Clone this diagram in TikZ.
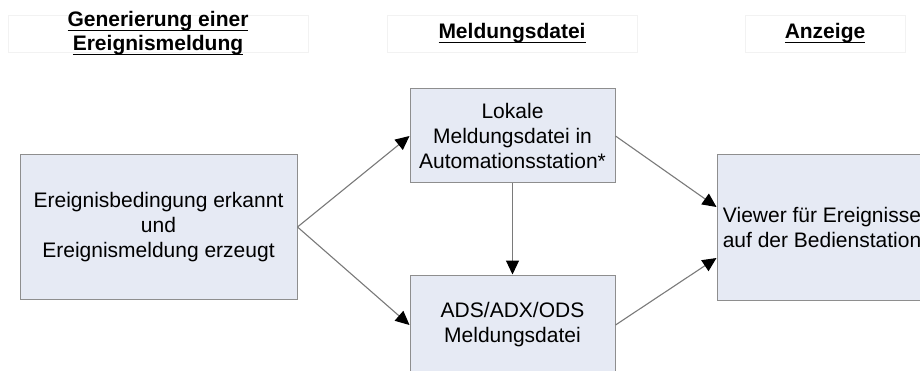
\documentclass[tikz,border=0pt]{standalone}
\usepackage{fontspec}
\setmainfont{Liberation Sans}
\newcommand{\hdrul}[1]{\setbox0=\hbox{#1}\rlap{\vrule width\wd0 height -2.8pt depth 4.3pt}\box0}
\usetikzlibrary{arrows.meta,calc}
\definecolor{boxfill}{HTML}{E6EAF4}
\definecolor{boxline}{HTML}{8E8E8E}
\definecolor{arrline}{HTML}{7A7A7A}
\definecolor{hdrline}{HTML}{F2F2F2}
\begin{document}
\begin{tikzpicture}[x=1pt,y=-1pt,
  box/.style={draw=boxline, line width=1pt, fill=boxfill, inner sep=0pt, align=center,
              font=\fontsize{21}{25}\selectfont},
  hdrbox/.style={draw=hdrline, line width=0.8pt, inner sep=0pt},
  hdrtext/.style={font=\bfseries\fontsize{21}{24}\selectfont, align=center, inner sep=0pt},
  arr/.style={draw=arrline, line width=1.1pt, -{Triangle[length=14pt,width=13pt,color=black]}}]
\useasboundingbox (0,0) rectangle (920,371);
\clip (0,0) rectangle (920,371);
\fill[white] (0,0) rectangle (920,371);
% headers
\node[hdrbox, minimum width=300pt, minimum height=37pt] (H1) at (158,33.5) {};
\node[hdrbox, minimum width=250pt, minimum height=37pt] (H2) at (512,33.5) {};
\node[hdrbox, minimum width=160pt, minimum height=37pt] (H3) at (825,33.5) {};
\node[hdrtext] (H1t) at (158,33.5) {\hdrul{Generierung einer}\\\hdrul{Ereignismeldung}};
\node[hdrtext] (H2t) at (512,33.5) {\hdrul{Meldungsdatei}};
\node[hdrtext] (H3t) at (825,33.5) {\hdrul{Anzeige}};
% boxes
\node[box, minimum width=277pt, minimum height=144pt] (L) at (158.5,227) {Ereignisbedingung erkannt\\und\\Ereignismeldung erzeugt};
\node[box, minimum width=205pt, minimum height=94pt] (T) at (512.5,136) {Lokale\\Meldungsdatei in\\Automationsstation*};
\node[box, minimum width=205pt, minimum height=100pt] (B) at (512.5,325) {ADS/ADX/ODS\\Meldungsdatei};
\node[box, minimum width=210pt, minimum height=145pt] (R) at (822,227.5) {Viewer für Ereignisse\\auf der Bedienstation};
% arrows
\draw[arr] (L.east) -- (T.west);
\draw[arr] (L.east) -- (B.west);
\draw[arr] (T.south) -- (B.north);
\draw[arr] (T.east) -- ($(R.west)+(0,-20.5)$);
\draw[arr] (B.east) -- ($(R.west)+(0,30.5)$);
\end{tikzpicture}
\end{document}
